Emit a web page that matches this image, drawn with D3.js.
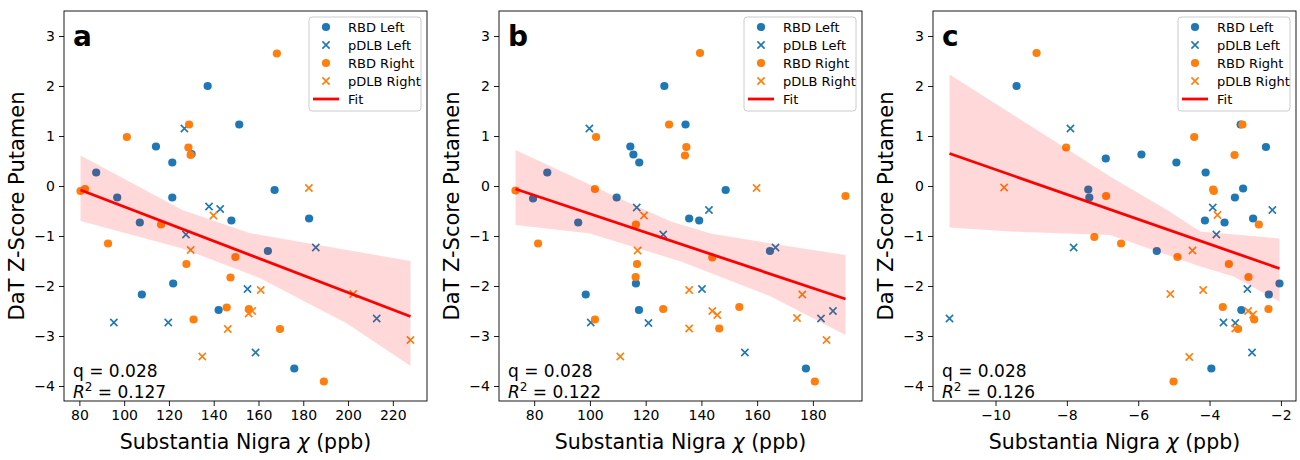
<!DOCTYPE html>
<html>
<head>
<meta charset="utf-8">
<script src="https://cdn.jsdelivr.net/npm/d3@7"></script>
<style>
  html, body { margin: 0; padding: 0; background: #fff; }
  svg { display: block; font-family: "DejaVu Sans", sans-serif; }
</style>
</head>
<body>
<svg id="chart" width="1300" height="460"></svg>
<script>
// ---------------- DATA ----------------
const groupNames = ["RBD Left", "pDLB Left", "RBD Right", "pDLB Right"];
const yTicks = [-4, -3, -2, -1, 0, 1, 2, 3];
const yLimits = [-4.3, 3.5];

// Panel a
const aLetter = "a";
const aXTicks = [80, 100, 120, 140, 160, 180, 200, 220];
const aRbdLeftX = [137.3, 151.4, 114.2, 130.1, 121.5, 87.5, 96.9, 121.5, 147.9, 107.0, 121.9, 107.9, 142.2, 182.6, 164.2, 176.0, 167.2];
const aRbdLeftY = [2.0, 1.23, 0.79, 0.64, 0.47, 0.27, -0.23, -0.23, -0.69, -0.73, -1.95, -2.17, -2.48, -0.65, -1.3, -3.65, -0.08];
const aPdlbLeftX = [126.9, 137.9, 142.9, 127.6, 155.1, 95.4, 119.7, 158.7, 185.6, 212.8];
const aPdlbLeftY = [1.15, -0.41, -0.46, -0.97, -2.06, -2.73, -2.73, -3.33, -1.23, -2.65];
const aRbdRightX = [168.2, 129.0, 101.2, 128.7, 129.7, 80.5, 82.5, 116.5, 92.8, 149.7, 127.8, 147.5, 145.8, 155.7, 131.0, 169.6, 189.2];
const aRbdRightY = [2.65, 1.23, 0.98, 0.77, 0.62, -0.1, -0.06, -0.77, -1.15, -1.42, -1.56, -1.83, -2.43, -2.46, -2.67, -2.86, -3.91];
const aPdlbRightX = [182.5, 139.9, 129.7, 161.0, 155.6, 157.2, 146.3, 134.9, 202.3, 227.9];
const aPdlbRightY = [-0.04, -0.59, -1.28, -2.08, -2.55, -2.5, -2.86, -3.41, -2.16, -3.08];
const aFitX = [80.5, 227.9];
const aFitY = [-0.08, -2.61];
const aBandUpperX = [80.5, 126.0, 156.0, 199.5, 227.9];
const aBandUpperY = [0.61, -0.48, -0.94, -1.28, -1.5];
const aBandLowerX = [80.5, 126.0, 160.5, 199.5, 227.9];
const aBandLowerY = [-0.70, -1.25, -1.84, -2.75, -3.6];
const aQ = "q = 0.028";
const aR2 = "0.127";

// Panel b
const bLetter = "b";
const bXTicks = [80, 100, 120, 140, 160, 180];
const bRbdLeftX = [126.7, 134.3, 114.5, 115.6, 117.7, 84.7, 79.6, 109.6, 148.7, 135.6, 139.2, 95.8, 164.6, 116.5, 98.5, 117.6, 177.5];
const bRbdLeftY = [2.0, 1.23, 0.79, 0.63, 0.47, 0.27, -0.25, -0.23, -0.08, -0.65, -0.69, -0.73, -1.3, -1.95, -2.17, -2.48, -3.65];
const bPdlbLeftX = [99.8, 116.8, 142.7, 126.3, 166.6, 140.2, 100.3, 121.0, 155.6, 182.9, 187.2];
const bPdlbLeftY = [1.15, -0.43, -0.48, -0.97, -1.23, -2.06, -2.73, -2.74, -3.33, -2.65, -2.5];
const bRbdRightX = [139.5, 128.4, 102.2, 134.6, 134.1, 73.3, 101.8, 191.7, 116.5, 81.4, 143.9, 116.9, 116.4, 126.3, 153.6, 101.8, 146.4, 180.7];
const bRbdRightY = [2.66, 1.23, 0.98, 0.78, 0.61, -0.09, -0.06, -0.2, -0.77, -1.15, -1.43, -1.56, -1.82, -2.46, -2.42, -2.67, -2.85, -3.91];
const bPdlbRightX = [159.8, 119.4, 117.1, 135.6, 143.9, 145.7, 135.6, 176.2, 174.3, 184.9, 110.9];
const bPdlbRightY = [-0.04, -0.59, -1.29, -2.08, -2.5, -2.58, -2.85, -2.17, -2.64, -3.08, -3.41];
const bFitX = [73.3, 191.7];
const bFitY = [-0.06, -2.26];
const bBandUpperX = [73.3, 114.6, 129.0, 143.3, 164.9, 191.7];
const bBandUpperY = [0.72, -0.35, -0.71, -0.95, -1.15, -1.38];
const bBandLowerX = [73.3, 100.0, 132.6, 164.9, 191.7];
const bBandLowerY = [-0.78, -0.95, -1.51, -2.21, -2.98];
const bQ = "q = 0.028";
const bR2 = "0.122";

// Panel c
const cLetter = "c";
const cXTicks = [-10, -8, -6, -4, -2];
const cRbdLeftX = [-9.41, -6.91, -7.40, -7.37, -3.13, -2.42, -5.91, -4.93, -4.11, -3.06, -3.29, -4.13, -3.58, -2.78, -5.48, -2.04, -2.34, -3.11, -3.95];
const cRbdLeftY = [2.0, 0.55, -0.07, -0.23, 1.23, 0.78, 0.63, 0.47, 0.27, -0.05, -0.23, -0.69, -0.73, -0.65, -1.3, -1.95, -2.17, -2.48, -3.65];
const cPdlbLeftX = [-7.90, -7.81, -11.29, -3.91, -2.24, -3.81, -2.94, -3.61, -3.28, -2.81];
const cPdlbLeftY = [1.15, -1.23, -2.65, -0.43, -0.48, -0.97, -2.06, -2.73, -2.74, -3.33];
const cRbdRightX = [-8.85, -8.02, -6.90, -3.08, -4.43, -3.30, -3.90, -3.88, -7.23, -2.62, -6.48, -4.90, -3.46, -2.91, -3.63, -2.75, -2.35, -3.20, -5.01];
const cRbdRightY = [2.66, 0.77, -0.2, 1.23, 0.98, 0.62, -0.07, -0.1, -1.02, -0.77, -1.15, -1.42, -1.56, -1.82, -2.42, -2.67, -2.46, -2.86, -3.91];
const cPdlbRightX = [-9.76, -3.78, -4.48, -5.10, -4.18, -2.92, -2.78, -3.28, -4.57];
const cPdlbRightY = [-0.03, -0.58, -1.29, -2.16, -2.08, -2.5, -2.57, -2.85, -3.42];
const cFitX = [-11.29, -2.04];
const cFitY = [0.65, -1.65];
const cBandUpperX = [-11.29, -7.07, -6.79, -5.19, -4.26, -2.04];
const cBandUpperY = [2.23, 0.32, 0.19, -0.48, -0.91, -1.05];
const cBandLowerX = [-11.29, -9.6, -6.79, -4.26, -3.33, -2.04];
const cBandLowerY = [-0.83, -0.91, -0.98, -1.61, -1.81, -2.31];
const cQ = "q = 0.028";
const cR2 = "0.126";

// ---------------- LAYOUT ----------------
const panelLefts = [64, 499, 933];
const panelWidth = 363;
const plotTop = 11, plotBottom = 401;
const BLUE = "#1f77b4", ORANGE = "#ff7f0e";

const panels = [
  { letter: aLetter, ticks: aXTicks, groups: [[aRbdLeftX, aRbdLeftY], [aPdlbLeftX, aPdlbLeftY], [aRbdRightX, aRbdRightY], [aPdlbRightX, aPdlbRightY]],
    fitX: aFitX, fitY: aFitY, upX: aBandUpperX, upY: aBandUpperY, loX: aBandLowerX, loY: aBandLowerY, q: aQ, r2: aR2 },
  { letter: bLetter, ticks: bXTicks, groups: [[bRbdLeftX, bRbdLeftY], [bPdlbLeftX, bPdlbLeftY], [bRbdRightX, bRbdRightY], [bPdlbRightX, bPdlbRightY]],
    fitX: bFitX, fitY: bFitY, upX: bBandUpperX, upY: bBandUpperY, loX: bBandLowerX, loY: bBandLowerY, q: bQ, r2: bR2 },
  { letter: cLetter, ticks: cXTicks, groups: [[cRbdLeftX, cRbdLeftY], [cPdlbLeftX, cPdlbLeftY], [cRbdRightX, cRbdRightY], [cPdlbRightX, cPdlbRightY]],
    fitX: cFitX, fitY: cFitY, upX: cBandUpperX, upY: cBandUpperY, loX: cBandLowerX, loY: cBandLowerY, q: cQ, r2: cR2 }
];
const groupColors = [BLUE, BLUE, ORANGE, ORANGE];
const groupIsCross = [false, true, false, true];

const svg = d3.select("#chart");

function crossPath(s) { return `M${-s},${-s}L${s},${s}M${-s},${s}L${s},${-s}`; }

panels.forEach((p, i) => {
  const left = panelLefts[i], right = left + panelWidth;
  const allX = p.groups.flatMap(g => g[0]).concat(p.fitX);
  const [mn, mx] = d3.extent(allX);
  const pad = (mx - mn) * 0.05;
  const x = d3.scaleLinear().domain([mn - pad, mx + pad]).range([left, right]);
  const y = d3.scaleLinear().domain(yLimits).range([plotBottom, plotTop]);

  const g = svg.append("g");

  const clipId = "clip" + i;
  svg.append("clipPath").attr("id", clipId).append("rect")
    .attr("x", left).attr("y", plotTop).attr("width", panelWidth).attr("height", plotBottom - plotTop);
  const plot = g.append("g").attr("clip-path", `url(#${clipId})`);

  p.groups.forEach((grp, gi) => {
    const pts = grp[0].map((xv, k) => [xv, grp[1][k]]);
    if (groupIsCross[gi]) {
      plot.selectAll(null).data(pts).enter().append("path")
        .attr("transform", d => `translate(${x(d[0])},${y(d[1])})`)
        .attr("d", crossPath(3.6))
        .attr("stroke", groupColors[gi]).attr("stroke-width", 1.6).attr("fill", "none");
    } else {
      plot.selectAll(null).data(pts).enter().append("circle")
        .attr("cx", d => x(d[0])).attr("cy", d => y(d[1])).attr("r", 4.1)
        .attr("fill", groupColors[gi]);
    }
  });

  const upper = p.upX.map((xv, k) => [xv, p.upY[k]]);
  const lower = p.loX.map((xv, k) => [xv, p.loY[k]]).reverse();
  const poly = upper.concat(lower);
  plot.append("path")
    .attr("d", d3.line().x(d => x(d[0])).y(d => y(d[1]))(poly) + "Z")
    .attr("fill", "#ff0000").attr("fill-opacity", 0.15).attr("stroke", "none");

  const fitPts = p.fitX.map((xv, k) => [xv, p.fitY[k]]);
  plot.append("path")
    .attr("d", d3.line().x(d => x(d[0])).y(d => y(d[1]))(fitPts))
    .attr("stroke", "#ff0000").attr("stroke-width", 2.8).attr("fill", "none");

  const xAxis = d3.axisBottom(x).tickValues(p.ticks).tickSize(5).tickPadding(4);
  const gx = g.append("g").attr("transform", `translate(0,${plotBottom})`).call(xAxis);
  const yAxis = d3.axisLeft(y).tickValues(yTicks).tickSize(5).tickPadding(4);
  const gy = g.append("g").attr("transform", `translate(${left},0)`).call(yAxis);
  [gx, gy].forEach(ax => {
    ax.select(".domain").remove();
    ax.selectAll("text").attr("font-size", 14).attr("fill", "#000").attr("font-family", "DejaVu Sans, sans-serif");
    ax.selectAll("line").attr("stroke", "#000").attr("stroke-width", 0.9);
  });

  g.append("rect").attr("x", left).attr("y", plotTop).attr("width", panelWidth).attr("height", plotBottom - plotTop)
    .attr("fill", "none").attr("stroke", "#000").attr("stroke-width", 0.9);

  g.append("text").attr("x", (left + right) / 2).attr("y", 449).attr("text-anchor", "middle")
    .attr("font-size", 20.5).attr("fill", "#000")
    .call(t => {
      t.append("tspan").text("Substantia Nigra ");
      t.append("tspan").attr("font-style", "italic").text("χ");
      t.append("tspan").text(" (ppb)");
    });
  g.append("text").attr("transform", `translate(${left - 40},${(plotTop + plotBottom) / 2}) rotate(-90)`)
    .attr("text-anchor", "middle").attr("font-size", 21).attr("fill", "#000").text("DaT Z-Score Putamen");

  g.append("text").attr("x", left + 9).attr("y", 46).attr("font-size", 28).attr("font-weight", "bold")
    .attr("fill", "#000").text(p.letter);

  g.append("text").attr("x", left + 9).attr("y", 377).attr("font-size", 17).attr("fill", "#000").text(p.q);
  g.append("text").attr("x", left + 9).attr("y", 398).attr("font-size", 17).attr("fill", "#000")
    .call(t => {
      t.append("tspan").attr("font-style", "italic").text("R");
      t.append("tspan").attr("font-size", 12).attr("dy", -7).text("2");
      t.append("tspan").attr("dy", 7).text(" = " + p.r2);
    });

  const lw = 112, lh = 94;
  const lx = right - 6 - lw, ly = 17;
  const lg = g.append("g");
  lg.append("rect").attr("x", lx).attr("y", ly).attr("width", lw).attr("height", lh).attr("rx", 3)
    .attr("fill", "#fff").attr("fill-opacity", 0.8).attr("stroke", "#cccccc").attr("stroke-width", 1);
  const entries = groupNames.concat(["Fit"]);
  entries.forEach((name, k) => {
    const cy = ly + 10 + k * 18;
    if (k < 4) {
      if (groupIsCross[k]) {
        lg.append("path").attr("transform", `translate(${lx + 17},${cy})`).attr("d", crossPath(3.6))
          .attr("stroke", groupColors[k]).attr("stroke-width", 1.6).attr("fill", "none");
      } else {
        lg.append("circle").attr("cx", lx + 17).attr("cy", cy).attr("r", 4.1).attr("fill", groupColors[k]);
      }
    } else {
      lg.append("line").attr("x1", lx + 4).attr("x2", lx + 30).attr("y1", cy).attr("y2", cy)
        .attr("stroke", "#ff0000").attr("stroke-width", 2.8);
    }
    lg.append("text").attr("x", lx + 39).attr("y", cy).attr("dy", "0.35em").attr("font-size", 13)
      .attr("fill", "#000").text(name);
  });
});
</script>
</body>
</html>
